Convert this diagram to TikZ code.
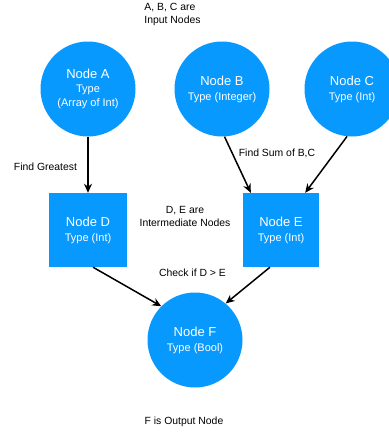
\documentclass[tikz,border=0pt]{standalone}
\usepackage{fontspec}
\setmainfont{Liberation Sans}
\usetikzlibrary{arrows.meta,calc}
\definecolor{nodeblue}{RGB}{8,153,255}
\begin{document}
\begin{tikzpicture}[x=1pt,y=-1pt,
  circnode/.style={circle,fill=nodeblue,draw=none,minimum size=95pt,inner sep=0pt,text=white,align=center,font=\fontsize{11}{14}\selectfont},
  sqnode/.style={rectangle,fill=nodeblue,draw=none,minimum height=74pt,inner sep=0pt,text=white,align=center,font=\fontsize{11}{14}\selectfont},
  lbl/.style={font=\fontsize{10.4}{12.8}\selectfont,align=center,inner sep=0pt,text=black},
  conn/.style={line width=1.5pt,-{Stealth[length=9pt,width=8pt]}}
]
\clip (0,0) rectangle (389,432);
\useasboundingbox (0,0) rectangle (389,432);
\node[circnode] (A) at (88,89) {{\fontsize{13}{15}\selectfont Node A}\\Type\\(Array of Int)};
\node[circnode] (B) at (222,89) {{\fontsize{13}{15}\selectfont Node B}\\[1pt]Type (Integer)};
\node[circnode] (C) at (352,89) {{\fontsize{13}{15}\selectfont Node C}\\[1pt]Type (Int)};
\node[sqnode,minimum width=78pt] (D) at (88,230) {{\fontsize{13}{15}\selectfont Node D}\\[1pt]Type (Int)};
\node[sqnode,minimum width=76pt] (E) at (281,230) {{\fontsize{13}{15}\selectfont Node E}\\[1pt]Type (Int)};
\node[circnode] (F) at (195,340) {{\fontsize{13}{15}\selectfont Node F}\\[1pt]Type (Bool)};

\node[lbl,align=left] (l1) at (172.5,14.5) {A, B, C are\\Input Nodes};
\node[lbl] (l2) at (45.5,167) {Find Greatest};
\node[lbl] (l3) at (277,153) {Find Sum of B,C};
\node[lbl] (l4) at (185,216.5) {D, E are\\Intermediate Nodes};
\node[lbl] (l5) at (192.5,273) {Check if D > E};
\node[lbl] (l6) at (184,422) {F is Output Node};

\draw[conn] (A.south) -- (D.north);
\draw[conn] (B.-87) -- ($(E.north west)+(8,0)$);
\draw[conn] (C.-96) -- ($(E.north east)+(-14,0)$);
\draw[conn] ($(D.south)+(5,0)$) -- (F.135);
\draw[conn] ($(E.south)+(-11,0)$) -- (F.50);
\end{tikzpicture}
\end{document}
